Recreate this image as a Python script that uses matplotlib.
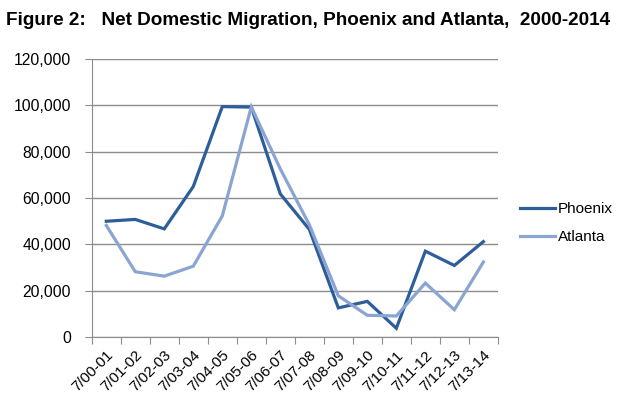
import matplotlib
matplotlib.use("Agg")
import matplotlib.pyplot as plt
from matplotlib.ticker import FuncFormatter

plt.rcParams['font.family'] = ['Liberation Sans', 'DejaVu Sans']

periods = ['7/00-01', '7/01-02', '7/02-03', '7/03-04', '7/04-05', '7/05-06', '7/06-07',
           '7/07-08', '7/08-09', '7/09-10', '7/10-11', '7/11-12', '7/12-13', '7/13-14']
phoenix = [50000, 50800, 46700, 65000, 99500, 99300, 61800,
           46500, 12600, 15400, 3800, 37100, 30900, 41200]
atlanta = [48200, 28200, 26300, 30600, 52300, 99400, 72600,
           48500, 17800, 9400, 9100, 23300, 11800, 32400]

fig = plt.figure(figsize=(6.2, 3.97), dpi=100)
ax = fig.add_axes([0.148, 0.151, 0.655, 0.70])

x = list(range(len(periods)))
ax.plot(x, phoenix, color='#2e5e9a', lw=2.3, label='Phoenix', solid_joinstyle='miter')
ax.plot(x, atlanta, color='#8aa5d1', lw=2.3, label='Atlanta', solid_joinstyle='miter')

ax.set_xlim(-0.5, len(periods) - 0.5)
ax.set_ylim(0, 120000)
ax.set_yticks(range(0, 120001, 20000))
ax.yaxis.set_major_formatter(FuncFormatter(lambda v, p: f'{int(v):,}'))
ax.grid(axis='y', color='#8c8c8c', lw=1)
ax.set_axisbelow(True)

# ticks sit between categories, labels at category centres
ax.set_xticks([i - 0.5 for i in range(len(periods) + 1)], minor=False)
ax.set_xticklabels([])
ax.set_xticks(x, minor=True)
ax.set_xticklabels(periods, minor=True, rotation=45, ha='right', rotation_mode='anchor', fontsize=11)
ax.tick_params(axis='x', which='minor', length=0, pad=8)
ax.tick_params(axis='x', which='major', length=5, color='#8c8c8c', direction='out')
ax.tick_params(axis='y', length=5, color='#8c8c8c', labelsize=11.3, pad=10)

for s in ['top', 'right']:
    ax.spines[s].set_visible(False)
for s in ['left', 'bottom']:
    ax.spines[s].set_color('#8c8c8c')

ax.legend(loc='center left', bbox_to_anchor=(1.02, 0.41), frameon=False, fontsize=11,
          handlelength=2.3, handletextpad=0.2, labelspacing=0.9)

fig.text(0.01, 0.948, 'Figure 2:   Net Domestic Migration, Phoenix and Atlanta,  2000-2014',
         fontsize=13.6, fontweight='bold', va='center', ha='left')

fig.savefig('out.png', dpi=100)
